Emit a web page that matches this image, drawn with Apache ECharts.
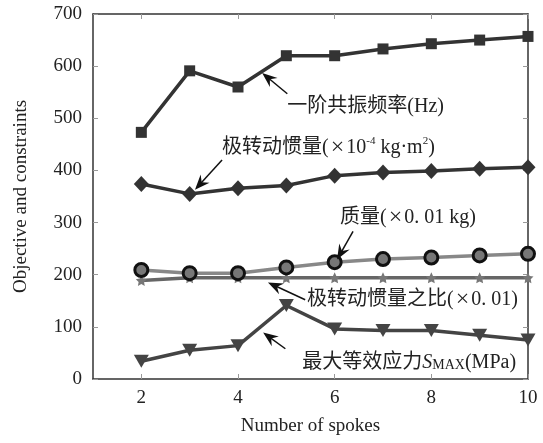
<!DOCTYPE html>
<html><head><meta charset="utf-8">
<script src="https://cdn.jsdelivr.net/npm/echarts@6/dist/echarts.min.js"></script>
<style>html,body{margin:0;padding:0;background:#fff}#c{width:543px;height:443px}</style>
</head><body><div id="c"></div>
<script>
const spokes = [2, 3, 4, 5, 6, 7, 8, 9, 10];
const resonanceFreq = [473, 591, 560, 620, 620, 633, 643, 650, 657];
const polarInertia = [374, 355, 366, 371, 390, 396, 399, 403, 406];
const mass = [209, 203, 203, 214, 224, 230, 233, 237, 240];
const inertiaRatio = [189, 194, 194, 194, 194, 194, 194, 194, 194];
const maxStress = [34, 55, 64, 141, 96, 93, 93, 84, 75];
const xTicks = [2, 4, 6, 8, 10];

// annotations: tip (data), tail (data), text anchor (data)
const annotations = [
  { tip: [4.50, 587], tail: [5.02, 547], at: [5.02, 522], key: 'freq' },
  { tip: [3.11, 363], tail: [3.67, 420], at: [3.67, 443], key: 'inertia' },
  { tip: [6.05, 229], tail: [6.38, 283], at: [6.11, 309], key: 'mass' },
  { tip: [4.62, 185], tail: [5.39, 152], at: [5.43, 152], key: 'ratio' },
  { tip: [4.52, 89], tail: [4.98, 58], at: [5.33, 32], key: 'stress' }
];

const SERIF = '"Liberation Serif","Times New Roman",serif';
const MIX = '"Liberation Serif","Noto Sans CJK SC",serif';
const chart = echarts.init(document.getElementById('c'), null, { renderer: 'canvas' });

function pts(vals) { return spokes.map((x, i) => [x, vals[i]]); }
function axLine() { return { show: true, onZero: false, lineStyle: { color: '#333', width: 1.5 } }; }
function axTick(custom) {
  const t = { show: true, inside: true, length: 5, lineStyle: { color: '#999', width: 1 } };
  if (custom) t.customValues = custom;
  return t;
}

chart.setOption({
  animation: false,
  backgroundColor: '#fff',
  grid: { left: 93, right: 15, top: 14, bottom: 64 },
  xAxis: [
    { type: 'value', min: 1, max: 10, position: 'bottom',
      name: 'Number of spokes', nameLocation: 'middle', nameGap: 38,
      nameTextStyle: { fontFamily: SERIF, fontSize: 19, color: '#222' },
      axisLine: axLine(), axisTick: axTick(xTicks),
      axisLabel: { customValues: xTicks, fontFamily: SERIF, fontSize: 19, color: '#222', margin: 10 },
      splitLine: { show: false } },
    { type: 'value', min: 1, max: 10, position: 'top',
      axisLine: axLine(), axisTick: axTick(xTicks),
      axisLabel: { show: false }, splitLine: { show: false } }
  ],
  yAxis: [
    { type: 'value', min: 0, max: 700, interval: 100, position: 'left',
      name: 'Objective and constraints', nameLocation: 'middle', nameGap: 62,
      nameTextStyle: { fontFamily: SERIF, fontSize: 19, color: '#222' },
      axisLine: axLine(), axisTick: axTick(),
      axisLabel: { fontFamily: SERIF, fontSize: 19, color: '#222', margin: 11 },
      splitLine: { show: false } },
    { type: 'value', min: 0, max: 700, interval: 100, position: 'right',
      axisLine: axLine(), axisTick: axTick(),
      axisLabel: { show: false }, splitLine: { show: false } }
  ],
  series: [
    { name: 'freq', type: 'line', data: pts(resonanceFreq), symbol: 'rect', symbolSize: 11,
      lineStyle: { color: '#333', width: 3.5 }, itemStyle: { color: '#333' }, z: 5 },
    { name: 'inertia', type: 'line', data: pts(polarInertia), symbol: 'diamond', symbolSize: [15, 16],
      lineStyle: { color: '#333', width: 3.5 }, itemStyle: { color: '#333' }, z: 5 },
    { name: 'ratio', type: 'line', data: pts(inertiaRatio), symbol: 'path://M0,-10 L2.9,-4 L9.5,-3.1 L4.7,1.5 L5.9,8.1 L0,5 L-5.9,8.1 L-4.7,1.5 L-9.5,-3.1 L-2.9,-4 Z', symbolSize: 11,
      lineStyle: { color: '#666', width: 3.5 }, itemStyle: { color: '#777' }, z: 4 },
    { name: 'mass', type: 'line', data: pts(mass), symbol: 'circle', symbolSize: 13,
      lineStyle: { color: '#888', width: 3.5 }, itemStyle: { color: '#777', borderColor: '#111', borderWidth: 3 }, z: 6 },
    { name: 'stress', type: 'line', data: pts(maxStress), symbol: 'triangle', symbolRotate: 180, symbolSize: [15, 13],
      lineStyle: { color: '#444', width: 3.5 }, itemStyle: { color: '#444' }, z: 5 }
  ]
});

const X = { fontFamily: SERIF, fontSize: 24, padding: [0, 2, 0, 2] };
const texts = {
  freq: { text: '一阶共振频率(Hz)', rich: {} },
  inertia: { text: '极转动惯量({x|×}10{sup|-4} kg·m{sup|2})', rich: { x: X, sup: { fontSize: 11, fontFamily: SERIF, verticalAlign: 'top', lineHeight: 22, padding: [0, 0, 8, 0] } } },
  mass: { text: '质量({x|×}0. 01 kg)', rich: { x: X } },
  ratio: { text: '极转动惯量之比({x|×}0. 01)', rich: { x: X } },
  stress: { text: '最大等效应力{it|S}{sub|MAX}(MPa)', rich: { it: { fontStyle: 'italic', fontFamily: SERIF, fontSize: 20 }, sub: { fontFamily: SERIF, fontSize: 14, padding: [6, 0, 0, 0] } } }
};

function arrow(tip, tail) {
  const dx = tail[0] - tip[0], dy = tail[1] - tip[1];
  const L = Math.sqrt(dx * dx + dy * dy);
  const ux = dx / L, uy = dy / L, nx = -uy, ny = ux;
  const hl = 15, hw = 6, notch = 10;
  const p1 = [tip[0] + ux * hl + nx * hw, tip[1] + uy * hl + ny * hw];
  const p2 = [tip[0] + ux * notch, tip[1] + uy * notch];
  const p3 = [tip[0] + ux * hl - nx * hw, tip[1] + uy * hl - ny * hw];
  return [
    { type: 'line', shape: { x1: tip[0] + ux * 6, y1: tip[1] + uy * 6, x2: tail[0], y2: tail[1] }, style: { stroke: '#111', lineWidth: 1.5 }, z: 100 },
    { type: 'polygon', shape: { points: [tip, p1, p2, p3] }, style: { fill: '#111' }, z: 100 }
  ];
}

const graphics = [];
annotations.forEach(a => {
  const tip = chart.convertToPixel({ gridIndex: 0 }, a.tip);
  const tail = chart.convertToPixel({ gridIndex: 0 }, a.tail);
  const at = chart.convertToPixel({ gridIndex: 0 }, a.at);
  arrow(tip, tail).forEach(g => graphics.push(g));
  const t = texts[a.key];
  graphics.push({ type: 'text', x: at[0], y: at[1], z: 101,
    style: { text: t.text, rich: t.rich, fontFamily: MIX, fontSize: 20, fill: '#222', verticalAlign: 'middle', align: 'left' } });
});
chart.setOption({ graphic: graphics });
</script></body></html>
